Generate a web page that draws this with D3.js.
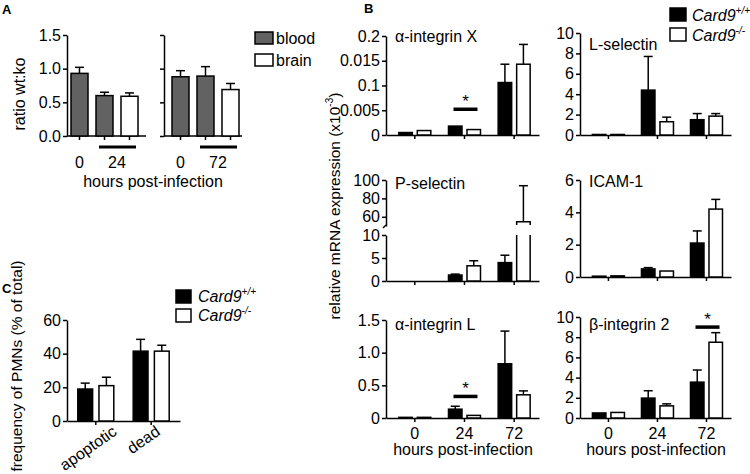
<!DOCTYPE html>
<html><head><meta charset="utf-8">
<script src="https://cdn.jsdelivr.net/npm/d3@7"></script>
<style>
body{margin:0;background:#fff;}
svg{display:block;font-family:"Liberation Sans",Arial,Helvetica,sans-serif;}
.axis path,.axis line{stroke:#000;stroke-width:1.5;}
.axis text{font-size:16px;fill:#000;font-family:"Liberation Sans",Arial,Helvetica,sans-serif;}
</style></head><body>
<svg id="c" width="750" height="474"></svg>
<script>
// ---------------- Panel A data ----------------
const aTissueLeft = ["blood","blood","brain"];
const aMeanLeft = [0.93, 0.60, 0.59];
const aErrLeft = [0.09, 0.05, 0.05];
const aHourLabelsLeft = ["0","24"];
const aTissueRight = ["blood","blood","brain"];
const aMeanRight = [0.88, 0.89, 0.69];
const aErrRight = [0.09, 0.14, 0.09];
const aHourLabelsRight = ["0","72"];
const aYTicks = [0, 0.5, 1.0, 1.5];
const aYTickLabels = ["0.0","0.5","1.0","1.5"];
const aLegend = ["blood","brain"];

// ---------------- Panel B data ----------------
const bHours = ["0","24","72"];
const genotypes = ["Card9+/+","Card9-/-"];
const intXWt = [0.005, 0.018, 0.106];
const intXWtErr = [0.001, 0.001, 0.037];
const intXKo = [0.009, 0.011, 0.143];
const intXKoErr = [0.001, 0.0, 0.040];
const intXTicks = [0, 0.05, 0.1, 0.15, 0.2];
const intXTickLabels = ["0","0.005","0.1","0.015","0.2"];

const lSelWt = [0.05, 4.4, 1.5];
const lSelWtErr = [0, 3.3, 0.6];
const lSelKo = [0.05, 1.3, 1.85];
const lSelKoErr = [0, 0.45, 0.25];
const lSelTicks = [0, 2, 4, 6, 8, 10];

const pSelWt = [0, 1.3, 4.0];
const pSelWtErr = [0, 0.2, 1.6];
const pSelKo = [0, 3.3, 54.5];
const pSelKoErr = [0, 1.1, 39.3];
const pSelTicksLow = [0, 5, 10];
const pSelTicksHigh = [60, 80, 100];

const icamWt = [0.05, 0.5, 2.1];
const icamWtErr = [0.01, 0.08, 0.75];
const icamKo = [0.07, 0.37, 4.2];
const icamKoErr = [0.01, 0.03, 0.6];
const icamTicks = [0, 2, 4, 6];

const intLWt = [0.01, 0.135, 0.83];
const intLWtErr = [0, 0.045, 0.5];
const intLKo = [0.01, 0.04, 0.355];
const intLKoErr = [0, 0.005, 0.06];
const intLTicks = [0, 0.5, 1.0, 1.5];
const intLTickLabels = ["0","0.5","1.0","1.5"];

const b2Wt = [0.5, 1.97, 3.55];
const b2WtErr = [0.03, 0.73, 1.2];
const b2Ko = [0.55, 1.2, 7.5];
const b2KoErr = [0.02, 0.2, 0.95];
const b2Ticks = [0, 2, 4, 6, 8, 10];

// ---------------- Panel C data ----------------
const cCats = ["apoptotic","dead"];
const cWt = [19, 41.5];
const cWtErr = [3.5, 7];
const cKo = [21, 41.5];
const cKoErr = [5, 3.5];
const cTicks = [0, 20, 40, 60];

// ---------------- drawing ----------------
const svg = d3.select("#c");
const SW = 1.5;
const CAP = 9;
const fills = {"Card9+/+":"#000","Card9-/-":"#fff","blood":"#626262","brain":"#fff"};

function yAxis(x, scale, ticks, labels, show=true) {
  const ax = d3.axisLeft(scale).tickValues(ticks).tickSize(4).tickSizeOuter(0).tickPadding(2)
    .tickFormat((d,i) => show ? (labels ? labels[i] : String(d)) : "");
  svg.append("g").attr("class","axis").attr("transform",`translate(${x},0)`).call(ax);
}
function bar(x, w, y0, y1, fill) {
  svg.append("rect").attr("x",x).attr("y",y1).attr("width",w).attr("height",Math.max(0,y0-y1))
    .attr("fill",fill).attr("stroke","#000").attr("stroke-width",SW);
}
function errBar(cx, yTop, yErr) {
  if (yTop - yErr < 0.5) return;
  svg.append("line").attr("x1",cx).attr("x2",cx).attr("y1",yTop).attr("y2",yErr).attr("stroke","#000").attr("stroke-width",SW);
  svg.append("line").attr("x1",cx-CAP/2).attr("x2",cx+CAP/2).attr("y1",yErr).attr("y2",yErr).attr("stroke","#000").attr("stroke-width",SW);
}
function txt(x, y, s, size=16, anchor="start", weight="normal") {
  return svg.append("text").attr("x",x).attr("y",y).attr("font-size",size).attr("text-anchor",anchor)
    .attr("font-weight",weight).attr("fill","#000").text(s);
}
function legendLabel(x, y, sup) {
  const t = svg.append("text").attr("x",x).attr("y",y).attr("font-size",16).attr("font-style","italic");
  t.append("tspan").text("Card9");
  t.append("tspan").attr("font-size",10).attr("dy",-7).text(sup);
}

// panel letters
txt(2, 14, "A", 13, "start", "bold");
txt(364, 13, "B", 13, "start", "bold");
txt(2, 293, "C", 13, "start", "bold");

// ---------------- Panel A ----------------
const aY = d3.scaleLinear().domain([0, 1.5]).range([136, 35]);
function panelA(axisX, axisEnd, barStart, barEnd, tissues, means, errs, hourLabels, showLabels) {
  const xb = d3.scaleBand().domain(d3.range(means.length)).range([barStart, barEnd]).paddingInner(0.32);
  yAxis(axisX, aY, aYTicks, aYTickLabels, showLabels);
  svg.append("line").attr("x1",axisX).attr("x2",axisEnd).attr("y1",aY(0)).attr("y2",aY(0)).attr("stroke","#000").attr("stroke-width",SW);
  means.forEach((m,i) => {
    const cx = xb(i) + xb.bandwidth()/2;
    svg.append("line").attr("x1",cx).attr("x2",cx).attr("y1",aY(0)).attr("y2",aY(0)+4).attr("stroke","#000").attr("stroke-width",SW);
    errBar(cx, aY(m), aY(m+errs[i]));
    bar(xb(i), xb.bandwidth(), aY(0), aY(m), fills[tissues[i]]);
  });
  txt(xb(0)+xb.bandwidth()/2, 168, hourLabels[0], 16, "middle");
  txt((xb(1)+xb(2)+xb.bandwidth())/2, 168, hourLabels[1], 16, "middle");
  svg.append("line").attr("x1",xb(1)+3).attr("x2",xb(2)+xb.bandwidth()-2).attr("y1",147).attr("y2",147)
    .attr("stroke","#000").attr("stroke-width",3);
}
panelA(67, 146, 71, 138, aTissueLeft, aMeanLeft, aErrLeft, aHourLabelsLeft, true);
panelA(164, 242, 172, 239, aTissueRight, aMeanRight, aErrRight, aHourLabelsRight, false);
txt(153, 187, "hours post-infection", 16, "middle");
txt(0, 0, "ratio wt:ko", 16, "middle").attr("transform","translate(25,94) rotate(-90)");
aLegend.forEach((l,i) => {
  svg.append("rect").attr("x",255).attr("y",32+i*22).attr("width",18).attr("height",12)
    .attr("fill",fills[l]).attr("stroke","#000").attr("stroke-width",SW);
  txt(276, 44+i*22, l, 16);
});

// ---------------- Panel B ----------------
const xSub = d3.scaleBand().domain(genotypes).range([-16, 16]).paddingInner(0.27);
function panelB(cfg) {
  const xG = d3.scaleBand().domain(bHours).range([cfg.axisX, cfg.axisEnd]).paddingOuter(0.04).align(1);
  const y0 = cfg.yLow ? cfg.yLow(0) : cfg.y(0);
  if (cfg.yLow) {
    yAxis(cfg.axisX, cfg.yLow, pSelTicksLow, null, true);
    yAxis(cfg.axisX, cfg.yHigh, pSelTicksHigh, null, true);
    svg.append("path").attr("d",`M${cfg.axisX},${cfg.yHigh(50)-1} l-3,3`).attr("stroke","#000").attr("stroke-width",SW).attr("fill","none");
  } else {
    yAxis(cfg.axisX, cfg.y, cfg.ticks, cfg.tickLabels, true);
  }
  const xa = d3.axisBottom(xG).tickSize(4).tickSizeOuter(0).tickPadding(6)
    .tickFormat(d => cfg.showX ? d : "");
  svg.append("g").attr("class","axis").attr("transform",`translate(0,${y0})`).call(xa);
  const yv = v => cfg.yLow ? (v <= 10 ? cfg.yLow(v) : cfg.yHigh(v)) : cfg.y(v);
  const series = [[genotypes[0], cfg.wt, cfg.wtErr],[genotypes[1], cfg.ko, cfg.koErr]];
  series.forEach(([g, vals, errs]) => {
    vals.forEach((v,i) => {
      const x = xG(bHours[i]) + xG.bandwidth()/2 + xSub(g);
      const w = xSub.bandwidth();
      const cx = x + w/2;
      if (cfg.yLow && v > 10) {
        const yb = cfg.yLow(10);
        svg.append("path").attr("d",`M${x},${yb} V${y0} H${x+w} V${yb}`).attr("fill",fills[g]).attr("stroke","#000").attr("stroke-width",SW);
        const yt = cfg.yHigh(v), ybt = cfg.yHigh(51);
        svg.append("path").attr("d",`M${x},${ybt} V${yt} H${x+w} V${ybt}`).attr("fill",fills[g]).attr("stroke","#000").attr("stroke-width",SW);
        errBar(cx, yt, cfg.yHigh(v+errs[i]));
      } else {
        errBar(cx, yv(v), yv(v+errs[i]));
        if (v > 0) bar(x, w, y0, yv(v), fills[g]);
      }
    });
  });
  txt(cfg.axisX+9, cfg.titleY, cfg.title, 16);
  if (cfg.sig) {
    const cx = xG(cfg.sig.hour) + xG.bandwidth()/2;
    const ys = yv(cfg.sig.level);
    svg.append("line").attr("x1",cx-11).attr("x2",cx+13).attr("y1",ys).attr("y2",ys).attr("stroke","#000").attr("stroke-width",3.5);
    txt(cx+1, ys-2, "*", 17, "middle");
  }
}
panelB({axisX:386, axisEnd:539, y:d3.scaleLinear().domain([0,0.2]).range([135,36]), ticks:intXTicks, tickLabels:intXTickLabels,
  wt:intXWt, wtErr:intXWtErr, ko:intXKo, koErr:intXKoErr, title:"α-integrin X", titleY:42, showX:false, sig:{hour:"24", level:0.052}});
panelB({axisX:580, axisEnd:731, y:d3.scaleLinear().domain([0,10]).range([135,33]), ticks:lSelTicks,
  wt:lSelWt, wtErr:lSelWtErr, ko:lSelKo, koErr:lSelKoErr, title:"L-selectin", titleY:50, showX:false});
panelB({axisX:386, axisEnd:539, yLow:d3.scaleLinear().domain([0,10]).range([281,235]), yHigh:d3.scaleLinear().domain([50,100]).range([226,180]),
  wt:pSelWt, wtErr:pSelWtErr, ko:pSelKo, koErr:pSelKoErr, title:"P-selectin", titleY:189, showX:false});
panelB({axisX:580, axisEnd:731, y:d3.scaleLinear().domain([0,6]).range([277,180]), ticks:icamTicks,
  wt:icamWt, wtErr:icamWtErr, ko:icamKo, koErr:icamKoErr, title:"ICAM-1", titleY:187, showX:false});
panelB({axisX:386, axisEnd:539, y:d3.scaleLinear().domain([0,1.5]).range([418,320]), ticks:intLTicks, tickLabels:intLTickLabels,
  wt:intLWt, wtErr:intLWtErr, ko:intLKo, koErr:intLKoErr, title:"α-integrin L", titleY:330, showX:true, sig:{hour:"24", level:0.33}});
panelB({axisX:580, axisEnd:731, y:d3.scaleLinear().domain([0,10]).range([418,317]), ticks:b2Ticks,
  wt:b2Wt, wtErr:b2WtErr, ko:b2Ko, koErr:b2KoErr, title:"β-integrin 2", titleY:330, showX:true, sig:{hour:"72", level:9.0}});
txt(463, 455, "hours post-infection", 16, "middle");
txt(656, 455, "hours post-infection", 16, "middle");
{
  const t = svg.append("text").attr("font-size",15.5).attr("text-anchor","middle").attr("transform","translate(340,206) rotate(-90)");
  t.append("tspan").text("relative mRNA expression (x10");
  t.append("tspan").attr("font-size",10).attr("dy",-7).text("-3");
  t.append("tspan").attr("dy",7).text(")");
}
genotypes.forEach((g,i) => {
  svg.append("rect").attr("x",670).attr("y",8+i*20).attr("width",16).attr("height",13)
    .attr("fill",fills[g]).attr("stroke","#000").attr("stroke-width",SW);
  legendLabel(692, 21+i*20, g.slice(5));
});

// ---------------- Panel C ----------------
const cY = d3.scaleLinear().domain([0,60]).range([421,320]);
const cX = d3.scaleBand().domain(cCats).range([67,180]).paddingOuter(0.02);
const cSub = d3.scaleBand().domain(genotypes).range([-18,18]).paddingInner(0.3);
yAxis(67, cY, cTicks, null, true);
svg.append("g").attr("class","axis").attr("transform",`translate(0,${cY(0)})`)
  .call(d3.axisBottom(cX).tickSize(4).tickSizeOuter(0).tickFormat(""));
[[genotypes[0], cWt, cWtErr],[genotypes[1], cKo, cKoErr]].forEach(([g, vals, errs]) => {
  vals.forEach((v,i) => {
    const x = cX(cCats[i]) + cX.bandwidth()/2 + cSub(g);
    const w = cSub.bandwidth();
    errBar(x+w/2, cY(v), cY(v+errs[i]));
    bar(x, w, cY(0), cY(v), fills[g]);
  });
});
cCats.forEach(c => {
  const cx = cX(c) + cX.bandwidth()/2;
  svg.append("text").attr("font-size",16).attr("text-anchor","end").attr("fill","#000")
    .attr("transform",`translate(${cx+(c.length>5?22:10)},${cY(0)+13}) rotate(-35)`).text(c);
});
txt(0, 0, "frequency of PMNs (% of total)", 15.5, "middle").attr("transform","translate(22,366) rotate(-90)");
genotypes.forEach((g,i) => {
  svg.append("rect").attr("x",176).attr("y",290+i*19).attr("width",15).attr("height",13)
    .attr("fill",fills[g]).attr("stroke","#000").attr("stroke-width",SW);
  legendLabel(198, 302+i*19, g.slice(5));
});
</script>
</body></html>
